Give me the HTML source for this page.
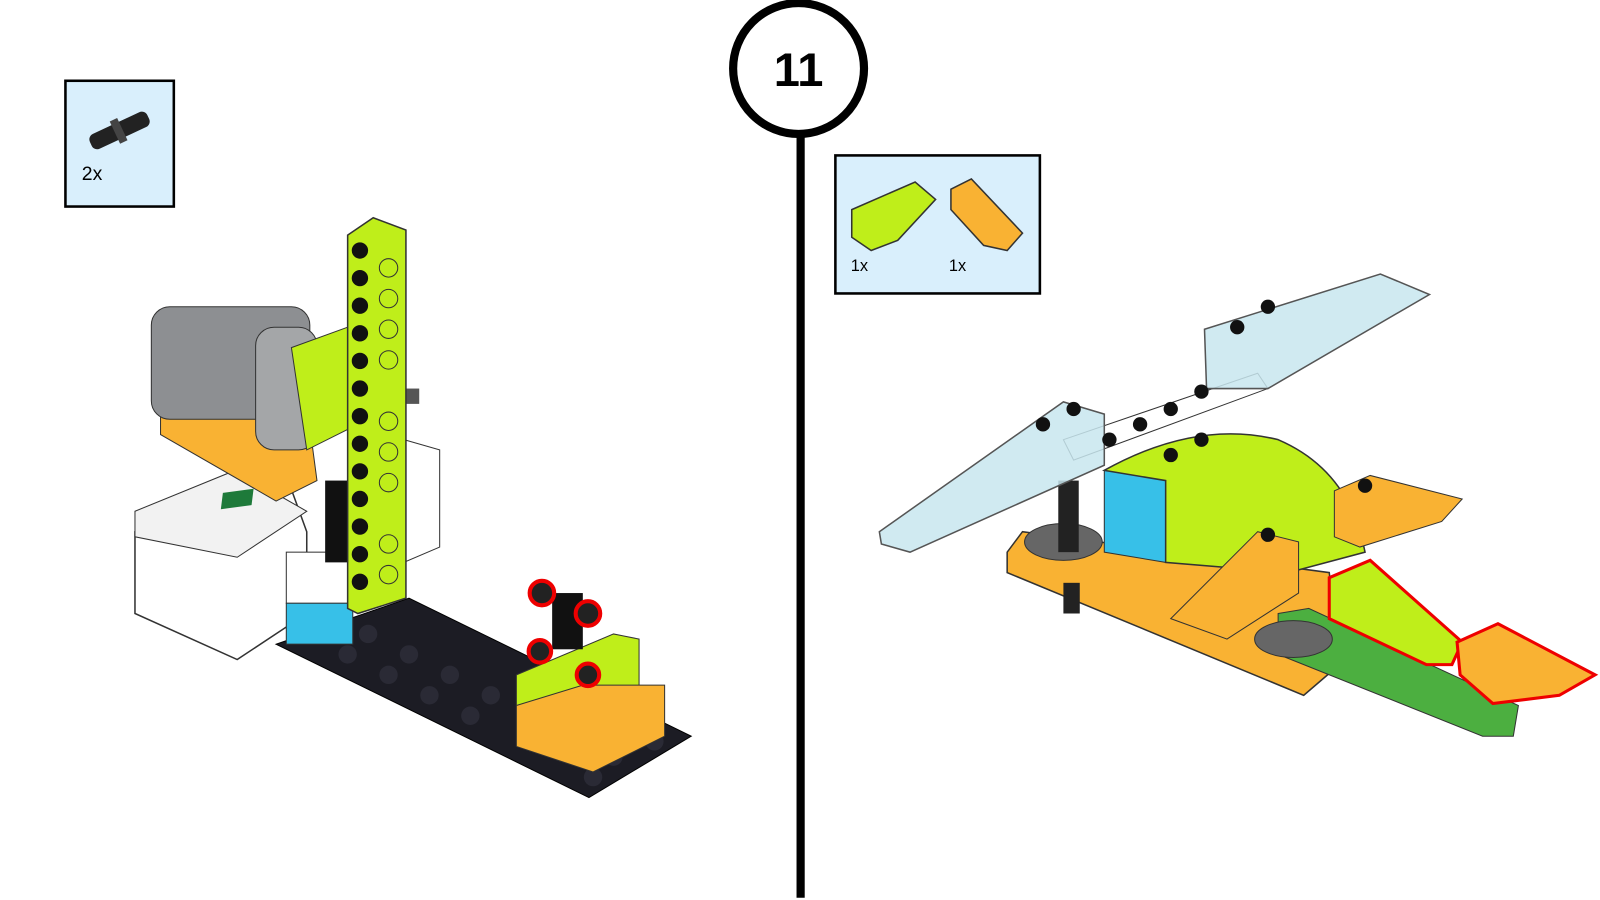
<!DOCTYPE html>
<html><head><style>
html,body{margin:0;padding:0;background:#fff;width:1600px;height:900px;overflow:hidden;font-family:"Liberation Sans",sans-serif}
</style></head><body>
<svg width="1600" height="900" viewBox="0 0 1600 900" xmlns="http://www.w3.org/2000/svg">
<g transform="scale(1.0225)">
<line x1="783" y1="125" x2="783" y2="878" stroke="#000" stroke-width="8"/>
<circle cx="781" cy="67" r="64" fill="#fff" stroke="#000" stroke-width="8"/>
<text x="781" y="84" text-anchor="middle" font-size="46" font-weight="bold" font-family="Liberation Sans, sans-serif">11</text>

<rect x="64" y="79" width="106" height="123" fill="#d9effc" stroke="#000" stroke-width="2.5"/>
<g transform="rotate(-25 116 128)">
<rect x="86" y="120" width="62" height="16" rx="6" fill="#222"/>
<rect x="112" y="116" width="8" height="24" fill="#444"/>
</g>
<text x="80" y="176" font-size="19">2x</text>

<rect x="817" y="152" width="200" height="135" fill="#d9effc" stroke="#000" stroke-width="2.5"/>
<polygon points="833,205 895,178 915,195 878,235 852,245 833,232" fill="#bfee1a" stroke="#333" stroke-width="1.5"/>
<polygon points="930,185 950,175 1000,228 985,245 962,240 930,205" fill="#f9b233" stroke="#333" stroke-width="1.5"/>
<text x="832" y="265" font-size="16">1x</text>
<text x="928" y="265" font-size="16">1x</text>

<!-- LEFT MODEL -->
<polygon points="270,630 400,585 676,720 576,780" fill="#1c1c24" stroke="#000"/>
<g fill="#2a2a35">
<circle cx="360" cy="620" r="9"/><circle cx="400" cy="640" r="9"/><circle cx="440" cy="660" r="9"/><circle cx="480" cy="680" r="9"/>
<circle cx="340" cy="640" r="9"/><circle cx="380" cy="660" r="9"/><circle cx="420" cy="680" r="9"/><circle cx="460" cy="700" r="9"/>
<circle cx="600" cy="740" r="9"/><circle cx="640" cy="725" r="9"/><circle cx="580" cy="760" r="9"/>
</g>
<polygon points="132,520 280,465 300,520 300,600 232,645 132,600" fill="#fff" stroke="#333" stroke-width="1.5"/>
<polygon points="132,500 230,460 300,500 232,545 132,525" fill="#f2f2f2" stroke="#333"/>
<polygon points="218,482 248,478 246,494 216,498" fill="#1e7a3a"/>
<rect x="280" y="540" width="65" height="50" fill="#fff" stroke="#333"/>
<polygon points="280,590 345,590 345,630 280,630" fill="#37c0e8" stroke="#333"/>
<polygon points="395,430 430,440 430,535 395,550" fill="#fff" stroke="#333"/>
<polygon points="157,395 300,395 310,470 270,490 157,425" fill="#f9b233" stroke="#333"/>
<rect x="148" y="300" width="155" height="110" rx="18" fill="#8d8f92" stroke="#333"/>
<rect x="250" y="320" width="60" height="120" rx="18" fill="#a4a6a8" stroke="#333"/>
<circle cx="330" cy="375" r="35" fill="#999" stroke="#333"/>
<polygon points="285,340 340,320 340,420 300,440" fill="#bfee1a" stroke="#333"/>
<rect x="370" y="380" width="40" height="15" fill="#555"/>
<rect x="318" y="470" width="30" height="80" fill="#111"/>
<polygon points="340,230 365,213 397,225 397,585 350,600 340,595" fill="#bfee1a" stroke="#333" stroke-width="1.5"/>
<g fill="#111">
<circle cx="352" cy="245" r="8"/><circle cx="352" cy="272" r="8"/><circle cx="352" cy="299" r="8"/><circle cx="352" cy="326" r="8"/><circle cx="352" cy="353" r="8"/><circle cx="352" cy="380" r="8"/><circle cx="352" cy="407" r="8"/><circle cx="352" cy="434" r="8"/><circle cx="352" cy="461" r="8"/><circle cx="352" cy="488" r="8"/><circle cx="352" cy="515" r="8"/><circle cx="352" cy="542" r="8"/><circle cx="352" cy="569" r="8"/>
</g>
<g fill="none" stroke="#333">
<circle cx="380" cy="262" r="9"/><circle cx="380" cy="292" r="9"/><circle cx="380" cy="322" r="9"/><circle cx="380" cy="352" r="9"/><circle cx="380" cy="412" r="9"/><circle cx="380" cy="442" r="9"/><circle cx="380" cy="472" r="9"/><circle cx="380" cy="532" r="9"/><circle cx="380" cy="562" r="9"/>
</g>
<polygon points="505,660 600,620 625,625 625,680 560,700 505,690" fill="#bfee1a" stroke="#333"/>
<polygon points="505,690 570,670 650,670 650,720 580,755 505,730" fill="#f9b233" stroke="#333"/>
<rect x="540" y="580" width="30" height="55" fill="#111"/>
<circle cx="530" cy="580" r="12" fill="#222" stroke="#e00" stroke-width="4"/>
<circle cx="575" cy="600" r="12" fill="#222" stroke="#e00" stroke-width="4"/>
<circle cx="528" cy="637" r="11" fill="#222" stroke="#e00" stroke-width="4"/>
<circle cx="575" cy="660" r="11" fill="#222" stroke="#e00" stroke-width="4"/>

<!-- RIGHT MODEL -->
<polygon points="985,540 1000,520 1300,560 1310,650 1275,680 985,560" fill="#f9b233" stroke="#333" stroke-width="1.5"/>
<polygon points="1250,600 1280,595 1485,690 1480,720 1450,720 1250,640" fill="#4caf40" stroke="#333"/>
<ellipse cx="1040" cy="530" rx="38" ry="18" fill="#666" stroke="#333"/>
<ellipse cx="1265" cy="625" rx="38" ry="18" fill="#666" stroke="#333"/>
<rect x="1035" y="470" width="20" height="70" fill="#222"/>
<rect x="1040" y="570" width="16" height="30" fill="#222"/>
<polygon points="1080,460 1140,440 1140,550 1080,540" fill="#37c0e8" stroke="#333"/>
<path d="M1080,460 Q1170,410 1250,430 Q1320,460 1335,540 L1260,560 L1140,550 L1140,470 Z" fill="#bfee1a" stroke="#333" stroke-width="1.5"/>
<polygon points="1145,605 1230,520 1270,530 1270,580 1200,625" fill="#f9b233" stroke="#333"/>
<polygon points="1305,480 1340,465 1430,488 1410,510 1330,535 1305,525" fill="#f9b233" stroke="#333"/>
<polygon points="1040,430 1230,365 1240,380 1050,450" fill="#fff" stroke="#333"/>
<polygon points="860,520 1040,393 1080,405 1080,455 890,540 862,532" fill="#c8e6ee" fill-opacity="0.85" stroke="#555" stroke-width="1.5"/>
<polygon points="1178,322 1350,268 1398,288 1240,380 1180,380" fill="#c8e6ee" fill-opacity="0.85" stroke="#555" stroke-width="1.5"/>
<polygon points="1300,565 1340,548 1430,628 1420,650 1395,650 1300,605" fill="#bfee1a" stroke="#e00" stroke-width="3"/>
<polygon points="1425,628 1465,610 1560,660 1525,680 1460,688 1428,660" fill="#f9b233" stroke="#e00" stroke-width="3"/>
<g fill="#111">
<circle cx="1020" cy="415" r="7"/><circle cx="1050" cy="400" r="7"/><circle cx="1085" cy="430" r="7"/><circle cx="1115" cy="415" r="7"/><circle cx="1145" cy="400" r="7"/><circle cx="1175" cy="383" r="7"/><circle cx="1210" cy="320" r="7"/><circle cx="1240" cy="300" r="7"/><circle cx="1145" cy="445" r="7"/><circle cx="1175" cy="430" r="7"/><circle cx="1240" cy="523" r="7"/><circle cx="1335" cy="475" r="7"/>
</g>
</g>
</svg>
</body></html>
